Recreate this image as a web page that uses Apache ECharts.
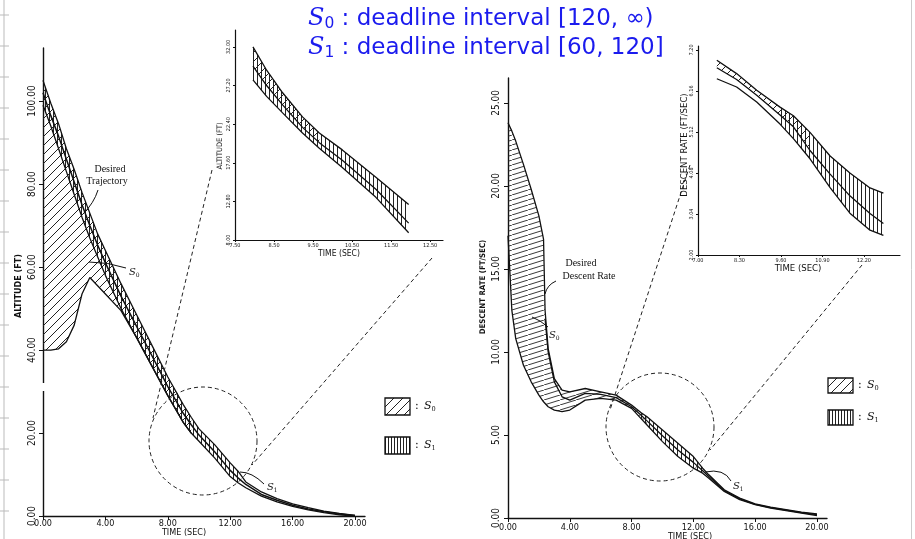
<!DOCTYPE html>
<html><head><meta charset="utf-8">
<script src="https://cdn.jsdelivr.net/npm/echarts@6/dist/echarts.min.js"></script>
<style>html,body{margin:0;padding:0;background:#fff;}#c{width:915px;height:539px;}</style>
</head><body><div id="c"></div>
<script>
// ---------- Data ----------
// Left main chart: altitude (ft) vs time (sec)
const altT       = [0,0.5,1,1.5,2,2.5,3,3.5,4,5,6,7,8,9,9.5,10,11,12,12.5,13,14,15,16,17,18,19,20];
const altUpper   = [105,99.5,94.5,88.5,83.5,78,73,68,64,56,48.5,41,33.5,26.8,23.8,21,17.2,12.8,10.8,8.2,5.8,4.2,2.9,2.0,1.2,0.6,0.15];
const altLower   = [99,94,88.5,83,77.5,72,67,62.5,58,50,43,36,29,22.5,20,18,14,9.5,8,6.8,4.8,3.4,2.3,1.5,0.8,0.3,0];
const altDesired = [102,96.5,91.5,86,80.5,75,70,65.3,61,53,45.7,38.5,31.2,24.7,22,19.5,15.5,11,9.2,7.6,5.2,3.8,2.6,1.7,1.0,0.5,0.1];
const altS0Low   = [40,40,40.3,42,46,53.5,57.5,55.5,53.5,49.5,43,36,29,22.5,20,null,null,null,null,null,null,null,null,null,null,null,null];
const altS0Last = 14;  // S0 band drawn up to t = 9.5
const altS1Last = 18;  // S1 band drawn up to t = 12.5

// Right main chart: descent rate (ft/sec) vs time (sec)
const rateT       = [0,0.25,0.5,1,1.5,2,2.3,2.4,2.6,3,3.5,4,5,6,7,8,8.6,9,10,11,12,12.6,13,14,15,16,17,18,19,20];
const rateUpper   = [23.8,23.3,22.7,21.3,19.8,18.2,16.8,12.5,10.2,8.4,7.7,7.6,7.8,7.6,7.4,6.8,6.35,6.1,5.3,4.5,3.7,3.0,2.6,1.7,1.2,0.85,0.65,0.5,0.35,0.25];
const rateLower   = [17,12.5,10.8,9.2,8.2,7.4,7.0,6.9,6.7,6.5,6.4,6.5,7.1,7.2,7.1,6.6,6.0,5.6,4.6,3.7,3.0,2.7,2.4,1.6,1.1,0.8,0.6,0.45,0.3,0.15];
const rateDesired = [null,null,null,null,null,null,null,12.0,10.0,8.2,7.3,7.1,7.5,7.45,7.25,6.7,6.2,5.85,4.95,4.1,3.35,2.85,2.5,1.65,1.15,0.82,0.62,0.47,0.32,0.2];
const rateS0Last = 17;   // S0 band up to t = 9
const rateS1First = 16;  // S1 band from t = 8.6
const rateS1Last = 21;   // ... to t = 12.6

// Left inset: altitude zoom
const inAltT     = [7.96,8.31,8.72,9.23,9.66,10.25,11.11,11.95];
const inAltUpper = [32.0,29.1,26.3,23.3,21.3,19.2,15.8,12.4];
const inAltLower = [27.9,25.85,23.8,21.3,19.4,17.0,13.3,8.9];
const inAltMid   = [29.6,27.2,24.8,22.0,20.1,17.9,14.3,10.1];
const inAltS0Last = 4;

// Right inset: descent rate zoom
const inRateT     = [7.59,8.21,8.84,9.57,9.99,10.51,11.14,11.76,12.39,12.81];
const inRateUpper = [6.94,6.60,6.18,5.75,5.53,5.11,4.51,4.08,3.70,3.57];
const inRateLower = [6.47,6.26,5.88,5.32,4.95,4.44,3.71,3.06,2.63,2.50];
const inRateMid   = [6.75,6.45,6.05,5.55,5.25,4.65,4.05,3.5,3.05,2.8];
const inRateS0Last = 5;
const inRateS1First = 3;

// Tick labels
const altXTicks  = [0,4,8,12,16,20];
const altYTicks  = [0,20,40,60,80,100];
const rateXTicks = [0,4,8,12,16,20];
const rateYTicks = [0,5,10,15,20,25];
const inAltXTicks  = [7.5,8.5,9.5,10.5,11.5,12.5];
const inAltYTicks  = [8,12.8,17.6,22.4,27.2,32];
const inRateXTicks = [7.0,8.3,9.6,10.9,12.2];
const inRateYTicks = [2.0,3.04,4.08,5.12,6.16,7.2];

// ---------- Patterns ----------
function makePattern(w, h, draw) {
  const c = document.createElement('canvas');
  c.width = w; c.height = h;
  const g = c.getContext('2d');
  g.strokeStyle = '#222'; g.lineWidth = 1;
  draw(g, w, h);
  return { image: c, repeat: 'repeat' };
}
const patDiag = makePattern(9, 9, (g, w, h) => {
  g.beginPath(); g.moveTo(0, h); g.lineTo(w, 0);
  g.moveTo(-1, 1); g.lineTo(1, -1); g.moveTo(w - 1, h + 1); g.lineTo(w + 1, h - 1); g.stroke();
});
const patShallow = makePattern(16, 5, (g, w, h) => {
  g.lineWidth = 0.9;
  g.beginPath(); g.moveTo(0, h); g.lineTo(w, 0); g.stroke();
});
const patVert = makePattern(4, 4, (g, w, h) => {
  g.beginPath(); g.moveTo(1.5, 0); g.lineTo(1.5, h); g.stroke();
});
const patVertDense = makePattern(3, 3, (g, w, h) => {
  g.beginPath(); g.moveTo(1.5, 0); g.lineTo(1.5, h); g.stroke();
});

// ---------- Helpers ----------
const FONT = "'DejaVu Sans Condensed','DejaVu Sans',sans-serif";
function band(gi, T, up, low, from, to, fill) {
  return {
    type: 'custom', xAxisIndex: gi, yAxisIndex: gi, silent: true, z: 1,
    data: [[T[from], up[from]]],
    renderItem: (params, api) => {
      const top = [], bot = [];
      for (let i = from; i <= to; i++) {
        if (up[i] == null || low[i] == null) continue;
        top.push(api.coord([T[i], up[i]]));
        bot.push(api.coord([T[i], low[i]]));
      }
      return { type: 'polygon', shape: { points: top.concat(bot.reverse()) },
               style: { fill: fill, stroke: null } };
    }
  };
}
function curve(gi, T, arr, width) {
  return {
    type: 'line', xAxisIndex: gi, yAxisIndex: gi, silent: true, z: 3,
    symbol: 'none', showSymbol: false, connectNulls: false,
    lineStyle: { color: '#111', width: width || 1.3 },
    data: T.map((t, i) => [t, arr[i] == null ? '-' : arr[i]])
  };
}
function xAx(gi, min, max, ticks, fs, margin) {
  return {
    gridIndex: gi, type: 'value', min: min, max: max,
    axisLine: { show: true, onZero: false, lineStyle: { color: '#111', width: gi < 2 ? 1.4 : 1.2 } },
    axisTick: { show: true, customValues: ticks, length: gi < 2 ? 4 : 2, lineStyle: { color: '#111' } },
    axisLabel: { customValues: ticks, formatter: v => v.toFixed(2), fontSize: fs, margin: margin,
                 color: '#111', fontFamily: FONT },
    splitLine: { show: false }
  };
}
function yAx(gi, min, max, ticks, fs, margin) {
  return {
    gridIndex: gi, type: 'value', min: min, max: max,
    axisLine: { show: true, onZero: false, lineStyle: { color: '#111', width: gi < 2 ? 1.4 : 1.2 } },
    axisTick: { show: true, customValues: ticks, length: gi < 2 ? 4 : 2, lineStyle: { color: '#111' } },
    axisLabel: { customValues: ticks, formatter: v => v.toFixed(2), fontSize: fs, margin: margin,
                 rotate: 90, color: '#111', fontFamily: FONT },
    splitLine: { show: false }
  };
}
function txt(x, y, text, size, opts) {
  opts = opts || {};
  return { type: 'text', x: x, y: y, rotation: opts.rot || 0, z: 10, silent: true,
    style: { text: text, fill: opts.color || '#111', align: opts.align || 'center',
             verticalAlign: 'middle', fontSize: size, fontWeight: opts.weight || 'normal',
             fontFamily: opts.family || FONT, fontStyle: opts.style || 'normal', rich: opts.rich } };
}
function sLabel(x, y, sub, size) {
  return txt(x, y, '{s|S}{b|' + sub + '}', size, { align: 'left', rich: {
    s: { fontFamily: 'DejaVu Serif', fontStyle: 'italic', fontSize: size, fill: '#111', lineHeight: size + 2 },
    b: { fontFamily: 'DejaVu Serif', fontSize: size * 0.6, fill: '#111', verticalAlign: 'bottom', lineHeight: size * 0.6 }
  }});
}
function legendEntry(x, y, w, h, fill, sub) {
  return [
    { type: 'rect', shape: { x: x, y: y, width: w, height: h }, z: 10, silent: true,
      style: { fill: fill, stroke: '#111', lineWidth: 1.3 } },
    txt(x + w + 5, y + h / 2, ':', 11, { align: 'left', family: 'DejaVu Serif' }),
    sLabel(x + w + 14, y + h / 2, sub, 11)
  ];
}
function dashLine(x1, y1, x2, y2) {
  return { type: 'line', shape: { x1, y1, x2, y2 }, z: 9, silent: true,
           style: { stroke: '#222', lineWidth: 1, lineDash: [4, 3] } };
}
function dashCircle(cx, cy, r) {
  return { type: 'circle', shape: { cx, cy, r }, z: 9, silent: true,
           style: { fill: 'transparent', stroke: '#222', lineWidth: 1, lineDash: [4, 3] } };
}
function bez(x1, y1, cx, cy, x2, y2) {
  return { type: 'bezierCurve', shape: { x1, y1, x2, y2, cpx1: cx, cpy1: cy }, z: 9, silent: true,
           style: { stroke: '#111', lineWidth: 1, fill: 'transparent' } };
}
const BLUE = '#1b1bee';
function titleLine(y, sub, rest) {
  return { type: 'text', x: 308, y: y, z: 20, silent: true,
    style: { text: '{s|S}{b|' + sub + '}{t|' + rest + '}', verticalAlign: 'middle', align: 'left',
      rich: {
        s: { fontFamily: 'DejaVu Serif', fontStyle: 'italic', fontSize: 24, fill: BLUE, lineHeight: 26 },
        b: { fontFamily: 'DejaVu Sans', fontSize: 15.5, fill: BLUE, verticalAlign: 'bottom', lineHeight: 14 },
        t: { fontFamily: 'DejaVu Sans', fontSize: 23, fill: BLUE, lineHeight: 26 }
      } } };
}

// ---------- Decorations ----------
const graphics = [];
graphics.push({ type: 'line', shape: { x1: 4, y1: 0, x2: 4, y2: 539 }, silent: true, style: { stroke: '#bbb', lineWidth: 1 } });
for (let y = 15; y < 539; y += 31) graphics.push({ type: 'line', shape: { x1: 0, y1: y, x2: 9, y2: y }, silent: true, style: { stroke: '#bbb', lineWidth: 1 } });
graphics.push({ type: 'line', shape: { x1: 911.5, y1: 0, x2: 911.5, y2: 539 }, silent: true, style: { stroke: '#ccc', lineWidth: 1 } });
// small gap in the left main y axis line
graphics.push({ type: 'rect', shape: { x: 41, y: 383, width: 4, height: 8 }, z: 30, silent: true, style: { fill: '#fff' } });
graphics.push(titleLine(19, '0', ' : deadline interval [120, \u221E)'));
graphics.push(titleLine(48, '1', ' : deadline interval [60, 120]'));
// axis names
graphics.push(txt(19, 286, 'ALTITUDE (FT)', 9, { rot: Math.PI / 2, weight: 'bold' }));
graphics.push(txt(184, 533, 'TIME (SEC)', 9));
graphics.push(txt(483, 287, 'DESCENT RATE (FT/SEC)', 7.8, { rot: Math.PI / 2, weight: 'bold' }));
graphics.push(txt(690, 537, 'TIME (SEC)', 9));
graphics.push(txt(220, 146, 'ALTITUDE (FT)', 7.5, { rot: Math.PI / 2 }));
graphics.push(txt(339, 254, 'TIME (SEC)', 8.5));
graphics.push(txt(685, 145, 'DESCENT RATE (FT/SEC)', 9.5, { rot: Math.PI / 2 }));
graphics.push(txt(798, 269, 'TIME (SEC)', 9.5));
// zoom circles and connector lines
graphics.push(dashCircle(203, 441, 54));
graphics.push(dashLine(212, 170, 153, 418));
graphics.push(dashLine(432, 258, 252, 465));
graphics.push(dashCircle(660, 427, 54));
graphics.push(dashLine(690, 165, 610, 410));
graphics.push(dashLine(862, 265, 710, 450));
// annotations left
graphics.push(txt(110, 169, 'Desired', 10, { family: 'Liberation Serif' }));
graphics.push(txt(107, 181, 'Trajectory', 10, { family: 'Liberation Serif' }));
graphics.push(bez(98, 190, 94, 203, 83, 214));
graphics.push(bez(126, 268, 108, 262, 89, 262));
graphics.push(sLabel(129, 272, '0', 10));
graphics.push(bez(240, 472, 252, 472, 264, 484));
graphics.push(sLabel(267, 487, '1', 10));
// annotations right
graphics.push(txt(581, 263, 'Desired', 10, { family: 'Liberation Serif' }));
graphics.push(txt(589, 276, 'Descent Rate', 10, { family: 'Liberation Serif' }));
graphics.push(bez(556, 281, 547, 285, 545, 294));
graphics.push(bez(548, 327, 540, 320, 532, 317));
graphics.push(sLabel(549, 335, '0', 10));
graphics.push(bez(705, 472, 724, 468, 731, 481));
graphics.push(sLabel(733, 486, '1', 10));
// legends
graphics.push(...legendEntry(385, 398, 25, 17, patDiag, '0'));
graphics.push(...legendEntry(385, 437, 25, 17, patVertDense, '1'));
graphics.push(...legendEntry(828, 378, 25, 15, patDiag, '0'));
graphics.push(...legendEntry(828, 410, 25, 15, patVertDense, '1'));

// ---------- Chart ----------
const chart = echarts.init(document.getElementById('c'), null, { renderer: 'canvas' });
chart.setOption({
  animation: false,
  backgroundColor: '#fff',
  grid: [
    { left: 43, top: 48, width: 322, height: 468 },
    { left: 508, top: 78, width: 319, height: 440 },
    { left: 235, top: 30, width: 208, height: 210 },
    { left: 698, top: 46, width: 202, height: 209 }
  ],
  xAxis: [
    xAx(0, 0, 20.64, altXTicks, 9, 3),
    xAx(1, 0, 20.65, rateXTicks, 9, 5),
    xAx(2, 7.5, 12.83, inAltXTicks, 5.5, 3),
    xAx(3, 7.0, 13.33, inRateXTicks, 5.5, 3)
  ],
  yAxis: [
    yAx(0, 0, 112.8, altYTicks, 10, 6),
    yAx(1, 0, 26.5, rateYTicks, 10, 7),
    yAx(2, 8, 34.1, inAltYTicks, 5.5, 3),
    yAx(3, 2, 7.3, inRateYTicks, 5.5, 3)
  ],
  series: [
    band(0, altT, altUpper, altS0Low, 0, altS0Last, patDiag),
    band(0, altT, altUpper, altLower, 0, altS1Last, patVert),
    curve(0, altT, altUpper), curve(0, altT, altLower), curve(0, altT, altDesired, 1.5), curve(0, altT, altS0Low),
    band(1, rateT, rateUpper, rateLower, 0, rateS0Last, patShallow),
    band(1, rateT, rateUpper, rateLower, rateS1First, rateS1Last, patVert),
    curve(1, rateT, rateUpper), curve(1, rateT, rateLower), curve(1, rateT, rateDesired),
    band(2, inAltT, inAltUpper, inAltMid, 0, inAltS0Last, patDiag),
    band(2, inAltT, inAltUpper, inAltLower, 0, inAltT.length - 1, patVert),
    curve(2, inAltT, inAltUpper), curve(2, inAltT, inAltLower), curve(2, inAltT, inAltMid),
    band(3, inRateT, inRateUpper, inRateMid, 0, inRateS0Last, patDiag),
    band(3, inRateT, inRateUpper, inRateLower, inRateS1First, inRateT.length - 1, patVert),
    curve(3, inRateT, inRateUpper), curve(3, inRateT, inRateLower), curve(3, inRateT, inRateMid)
  ],
  graphic: graphics
});
</script></body></html>
